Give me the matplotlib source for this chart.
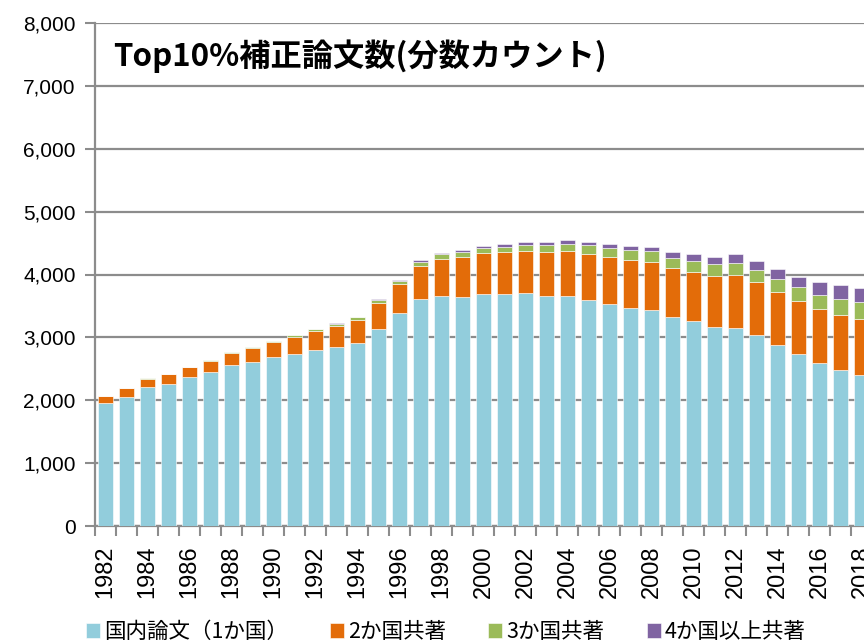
import numpy as np
import matplotlib
matplotlib.use('Agg')
import matplotlib.pyplot as plt
from matplotlib.ticker import StrMethodFormatter

plt.rcParams['font.family'] = ['Liberation Sans', 'Noto Sans CJK JP', 'DejaVu Sans']

years = list(range(1982, 2019))

# 分数カウントによるTop10%補正論文数（共著国数別）
domestic = [1954, 2054, 2203, 2261, 2367, 2447, 2559, 2607, 2691, 2734,
            2797, 2845, 2914, 3137, 3387, 3610, 3651, 3635, 3683, 3683,
            3699, 3662, 3658, 3594, 3524, 3460, 3428, 3330, 3253, 3158,
            3148, 3030, 2882, 2728, 2596, 2489, 2409]
two_country = [111, 138, 138, 149, 154, 185, 191, 223, 234, 275,
               297, 335, 366, 409, 462, 525, 596, 644, 659, 669,
               680, 701, 710, 732, 748, 765, 765, 767, 792, 823,
               844, 844, 844, 850, 848, 866, 876]
three_country = [5, 8, 8, 10, 12, 14, 16, 18, 21, 25,
                 32, 32, 37, 48, 41, 69, 73, 84, 80, 91,
                 96, 112, 122, 138, 150, 159, 175, 168, 175, 186,
                 196, 202, 207, 228, 234, 260, 271]
four_plus = [0, 0, 0, 1, 1, 1, 2, 2, 3, 3,
             5, 10, 14, 18, 25, 27, 27, 32, 37, 43,
             47, 47, 59, 53, 64, 75, 75, 87, 100, 116,
             132, 144, 155, 159, 196, 218, 229]

labels = ['国内論文（1か国）', '2か国共著', '3か国共著', '4か国以上共著']
colors = ['#92CDDC', '#E36C09', '#9BBB59', '#8064A2']

fig = plt.figure(figsize=(8.64, 6.43), dpi=100)
# 右端は図の外まで続く
ax = fig.add_axes([95 / 864, 117 / 643, 798 / 864, 503 / 643])

x = np.arange(len(years))
bottom = np.zeros(len(years))
handles = []
for vals, col, lab in zip([domestic, two_country, three_country, four_plus], colors, labels):
    b = ax.bar(x, vals, width=0.76, bottom=bottom, color=col, label=lab,
               edgecolor='white', linewidth=0.4, zorder=3)
    handles.append(b)
    bottom = bottom + np.array(vals)

ax.set_ylim(0, 8000)
ax.set_xlim(-0.5, len(years) + 0.5)
ax.set_yticks(np.arange(0, 8001, 1000))
ax.yaxis.set_major_formatter(StrMethodFormatter('{x:,.0f}'))
ax.grid(axis='y', color='#8c8c8c', linewidth=1.6, zorder=0)

ax.set_xticks(np.arange(-0.5, len(years), 1.0))
ax.set_xticklabels([])
ax.set_xticks(x[::2], minor=True)
ax.set_xticklabels([str(y) for y in years[::2]], minor=True, rotation=90,
                   fontsize=17)
ax.tick_params(axis='x', which='major', length=7, width=1.5, color='#8c8c8c')
ax.tick_params(axis='x', which='minor', length=0, pad=14)
ax.tick_params(axis='y', length=7, width=1.5, color='#8c8c8c', labelsize=15, pad=7)

for s in ['top', 'right']:
    ax.spines[s].set_visible(False)
for s in ['left', 'bottom']:
    ax.spines[s].set_color('#8c8c8c')
    ax.spines[s].set_linewidth(1.6)

fig.text(113 / 864, 1 - 56 / 643, 'Top10%補正論文数(分数カウント)', fontsize=22.5,
         fontweight='bold', va='center', ha='left',
         family=['Noto Sans CJK JP', 'DejaVu Sans'])

fig.legend(handles=handles, labels=labels, loc='center', bbox_to_anchor=(0.516, 1 - 632 / 643),
           ncol=4, frameon=False, handlelength=0.65, handleheight=0.65, handletextpad=0.2,
           columnspacing=1.95, prop={'family': ['Noto Sans CJK JP', 'DejaVu Sans'], 'size': 15.5})

fig.savefig('out.png', dpi=100)
